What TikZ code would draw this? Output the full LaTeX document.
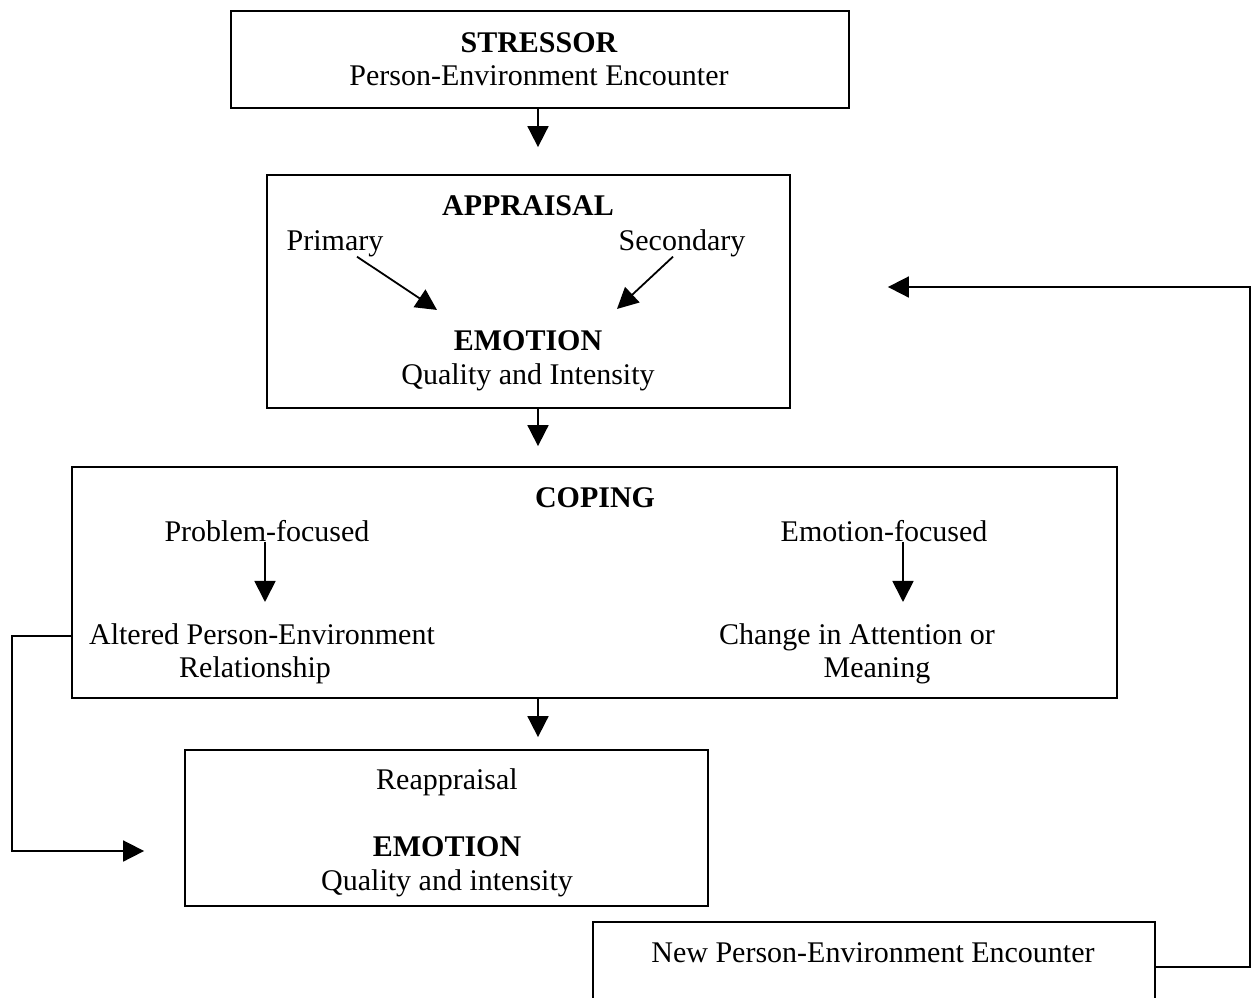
\documentclass[tikz,border=0pt]{standalone}
\usepackage{fontspec}
\setmainfont{Liberation Serif}
\usetikzlibrary{arrows.meta}
\begin{document}
\begin{tikzpicture}[x=1pt, y=-1pt,
    box/.style={draw, line width=1.8pt, inner sep=0pt},
    txt/.style={inner sep=0pt, anchor=base, font=\fontsize{30}{34}\selectfont},
    hd/.style={txt, font=\fontsize{30}{34}\selectfont\bfseries},
    tip/.style={line width=1.8pt, -{Triangle[length=21pt, width=21pt]}}]
            \clip (0,0) rectangle (1254,997);
            \coordinate (spine) at (538,0);

            \node[box, minimum width=618pt, minimum height=97pt] (stressor) at (540,59.5) {};
            \node[hd] (s1) at (539,52) {STRESSOR};
            \node[txt] (s2) at (539,85) {Person-Environment Encounter};

            \node[box, minimum width=523pt, minimum height=233pt] (appraisal) at (528.5,291.5) {};
            \node[hd] (a1) at (528,215) {APPRAISAL};
            \node[txt] (prim) at (335,250) {Primary};
            \node[txt] (sec) at (682,250) {Secondary};
            \node[hd] (emo1) at (528,350) {EMOTION};
            \node[txt] (q1) at (528,384) {Quality and Intensity};
            \draw[tip] ([xshift=22pt]prim.south) -- ([xshift=-91pt, yshift=20pt]emo1.north);
            \draw[tip] ([xshift=-9pt]sec.south) -- ([xshift=89pt, yshift=21pt]emo1.north);

            \node[box, minimum width=1045pt, minimum height=231pt] (coping) at (594.5,582.5) {};
            \node[hd] (c1) at (595,507) {COPING};
            \node[txt] (prob) at (267,541) {Problem-focused};
            \node[txt] (emof) at (884,541) {Emotion-focused};
            \node[txt] (alt) at (262,644) {Altered Person-Environment};
            \node[txt] (rel) at (255,677) {Relationship};
            \node[txt] (chg) at (857,644) {Change in Attention or};
            \node[txt] (mean) at (877,677) {Meaning};
            \draw[tip, shorten >=21pt] ([xshift=-2pt]prob.south) -- ([xshift=-2pt]prob.south |- alt.north);
            \draw[tip, shorten >=21pt] ([xshift=19pt]emof.south) -- ([xshift=19pt]emof.south |- chg.north);

            \node[box, minimum width=523pt, minimum height=156pt] (reapp) at (446.5,828) {};
            \node[txt] (r1) at (447,789) {Reappraisal};
            \node[hd] (emo2) at (447,856) {EMOTION};
            \node[txt] (q2) at (447,890) {Quality and intensity};

            \node[box, minimum width=562pt, minimum height=90pt] (new) at (874,967) {};
            \node[txt] (n1) at (873,962) {New Person-Environment Encounter};

            \draw[tip, shorten >=27pt] (stressor.south -| spine) -- (appraisal.north -| spine);
            \draw[tip, shorten >=20pt] (appraisal.south -| spine) -- (coping.north -| spine);
            \draw[tip, shorten >=12pt] (coping.south -| spine) -- (reapp.north -| spine);

            \coordinate (lt) at (12,636);
            \coordinate (lb) at (12,851);
            \draw[tip, shorten >=40pt] (coping.west |- lt) -- (lt) -- (lb) -- (reapp.west |- lb);

            \coordinate (rb) at (1250,967);
            \coordinate (rt) at (1250,287);
            \draw[tip, shorten >=97pt] (new.east) -- (rb) -- (rt) -- (appraisal.east |- rt);
        \end{tikzpicture}
\end{document}
